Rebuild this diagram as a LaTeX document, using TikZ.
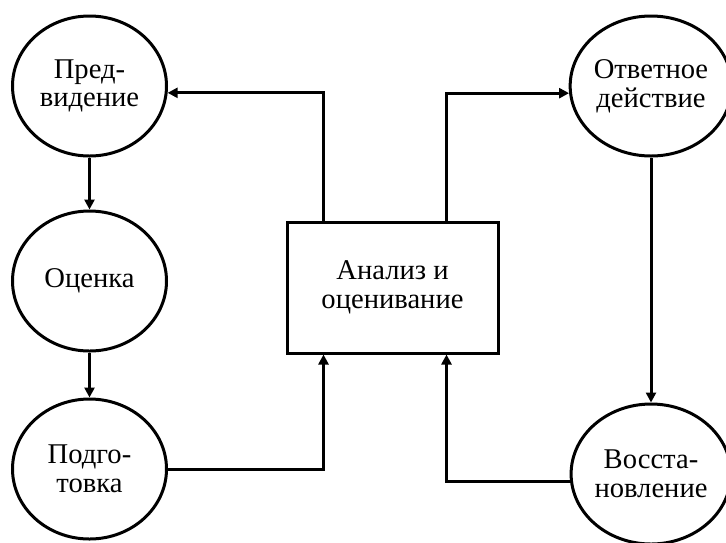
\documentclass[tikz,border=0pt]{standalone}
\usepackage{fontspec}
\setmainfont{Liberation Serif}
\usetikzlibrary{shapes.geometric,arrows.meta}

\tikzstyle{every node}=[font=\fontsize{14.3}{14.3}\selectfont, align=center]
\tikzstyle{stage}=[draw, ellipse, line width=1.5pt, inner sep=0pt, minimum height=70pt]
\tikzstyle{block}=[draw, rectangle, line width=1.5pt, minimum width=105.5pt, minimum height=65.5pt]
\tikzstyle{link}=[line width=1.5pt, -{Triangle[length=5pt,width=5pt]}]

\begin{document}
\begin{tikzpicture}[x=0.5pt, y=-0.5pt]
        \useasboundingbox (0,0) rectangle (726,542);
        % left column
        \node[stage, minimum width=77pt] (pred) at (89.5,86) {Пред-\\видение};
        \node[stage, minimum width=77pt] (ocenka) at (89.5,281) {Оценка};
        \node[stage, minimum width=77pt] (podg) at (89.5,469) {Подго-\\товка};
        % centre
        \node[block] (analiz) at (392.5,287.5) {Анализ и\\оценивание};
        % right column
        \node[stage, minimum width=73pt] (otvet) at (651,86) {Ответное\\действие};
        \node[stage, minimum width=73pt] (vosst) at (651,474) {Восста-\\новление};
        % connectors
        \draw[link] (pred) -- (ocenka);
        \draw[link] (ocenka) -- (podg);
        \draw[link] (podg.east) -| ([xshift=19pt]analiz.south west);
        \draw[link] ([xshift=19pt]analiz.north west) |- (pred.-5);
        \draw[link] ([xshift=-26.5pt]analiz.north east) |- (otvet.185);
        \draw[link] (otvet) -- (vosst);
        \draw[link] (vosst.185) -| ([xshift=-26.5pt]analiz.south east);
\end{tikzpicture}
\end{document}
